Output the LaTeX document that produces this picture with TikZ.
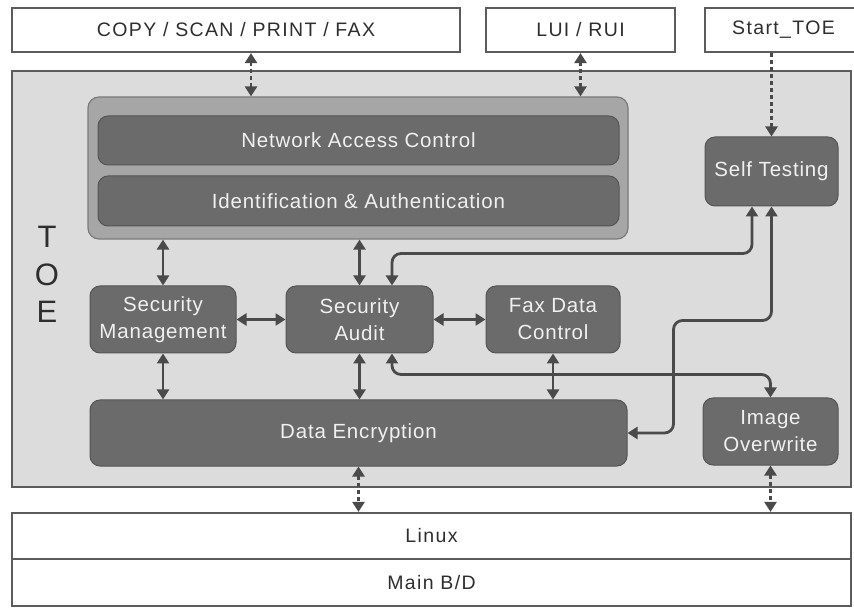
\documentclass[tikz,border=0pt]{standalone}
\usepackage{fontspec}
\setmainfont{Liberation Sans}
\newfontfamily\boxfont[LetterSpace=4]{Liberation Sans}
\newfontfamily\labelfont[LetterSpace=7]{Liberation Sans}
\usetikzlibrary{arrows.meta}

\definecolor{toefill}{HTML}{DCDCDC}
\definecolor{edgecol}{HTML}{5C5C5C}
\definecolor{modfill}{HTML}{6B6B6B}
\definecolor{modedge}{HTML}{555555}
\definecolor{grpfill}{HTML}{A6A6A6}
\definecolor{grpedge}{HTML}{7A7A7A}
\definecolor{arrowcol}{HTML}{4A4A4A}
\definecolor{labelcol}{HTML}{2E2E2E}
\definecolor{modtext}{HTML}{F0F0F0}

\begin{document}
\begin{tikzpicture}[x=1pt,y=-1pt,
  extbox/.style={draw=edgecol, line width=2.2pt, fill=white, inner sep=0pt,
    text=labelcol, font=\labelfont\fontsize{19.5}{23}\selectfont},
  module/.style={draw=modedge, line width=1pt, fill=modfill, rounded corners=10pt,
    inner sep=0pt, align=center, text=modtext, font=\boxfont\fontsize{20.5}{27}\selectfont},
  link/.style={draw=arrowcol, line width=2.8pt,
    {Triangle[length=10pt,width=12pt]}-{Triangle[length=10pt,width=12pt]}},
  dlink/.style={link, dash pattern=on 4pt off 3pt},
  bentlink/.style={link, rounded corners=9pt},
]
\useasboundingbox (0,0) rectangle (854,609);
\fill[white] (0,0) rectangle (854,609);

% external interfaces
\node[extbox, minimum width=448pt, minimum height=44pt] (copy) at (236,30) {COPY / SCAN / PRINT / FAX};
\node[extbox, minimum width=189pt, minimum height=44pt] (lui) at (580.5,30) {LUI / RUI};
\node[extbox, minimum width=157pt, minimum height=44pt] (start) at (783.5,30) {Start\_TOE};

% TOE boundary
\node[draw=edgecol, line width=2.6pt, fill=toefill, inner sep=0pt,
  minimum width=839pt, minimum height=416pt] (toe) at (431.5,279) {};
\node[text=labelcol, inner sep=0pt, font=\fontsize{31}{31}\selectfont] (tT) at (47,236.5) {T};
\node[text=labelcol, inner sep=0pt, font=\fontsize{31}{31}\selectfont] (tO) at (47,275) {O};
\node[text=labelcol, inner sep=0pt, font=\fontsize{31}{31}\selectfont] (tE) at (47,311.5) {E};

% access control group
\node[draw=grpedge, line width=1.2pt, fill=grpfill, rounded corners=11pt, inner sep=0pt,
  minimum width=540pt, minimum height=142pt] (grp) at (358,168) {};
\node[module, minimum width=521pt, minimum height=49pt] (nac) at (358.5,140.5) {Network Access Control};
\node[module, minimum width=521pt, minimum height=50pt] (ia) at (358.5,201) {Identification \& Authentication};

% functional modules
\node[module, minimum width=133pt, minimum height=69pt] (st) at (771.5,171.5) {Self Testing};
\node[module, minimum width=146pt, minimum height=67pt] (sm) at (163,319.5) {Security\\Management};
\node[module, minimum width=147pt, minimum height=67pt] (sa) at (359.5,319.5) {Security\\Audit};
\node[module, minimum width=134pt, minimum height=67pt] (fdc) at (553,319.5) {Fax Data\\Control};
\node[module, minimum width=537pt, minimum height=66pt] (de) at (358.5,433) {Data Encryption};
\node[module, minimum width=135pt, minimum height=67pt] (io) at (770.5,431.5) {Image\\Overwrite};

% platform layers
\node[draw=edgecol, line width=2.2pt, fill=white, inner sep=0pt, text=labelcol,
  font=\labelfont\fontsize{19.5}{23}\selectfont,
  minimum width=839pt, minimum height=46pt] (linux) at (431.5,536) {Linux};
\node[draw=edgecol, line width=2.2pt, fill=white, inner sep=0pt, text=labelcol,
  font=\labelfont\fontsize{19.5}{23}\selectfont,
  minimum width=839pt, minimum height=47pt] (mainbd) at (431.5,582.5) {Main B/D};

% external interface links
\coordinate (cp) at ([xshift=15pt]copy.south);
\draw[dlink] (cp) -- (cp |- grp.north);
\draw[dlink] (lui.south) -- (lui.south |- grp.north);
\draw[dlink, -{Triangle[length=10pt,width=12pt]}] (st.north |- start.south) -- (st.north);

% links between modules
\draw[link] (sm.north) -- (sm.north |- grp.south);
\draw[link] (sa.north) -- (sa.north |- grp.south);
\draw[link] (sm.east) -- (sa.west);
\draw[link] (sa.east) -- (fdc.west);
\draw[link] (sm.south) -- (sm.south |- de.north);
\draw[link] (sa.south) -- (sa.south |- de.north);
\draw[link] (fdc.south) -- (fdc.south |- de.north);

% self testing and image overwrite paths
\draw[bentlink] ([xshift=32.5pt]sa.north) -- ++(0,-32) -| ([xshift=-19.5pt]st.south);
\draw[bentlink] (st.south) -- ++(0,114) -- ++(-98,0) |- (de.east);
\draw[bentlink] ([xshift=32.5pt]sa.south) -- ++(0,21) -| (io.north);

% links to the platform
\draw[dlink] (de.south) -- (de.south |- linux.north);
\draw[dlink] (io.south) -- (io.south |- linux.north);
\end{tikzpicture}
\end{document}
